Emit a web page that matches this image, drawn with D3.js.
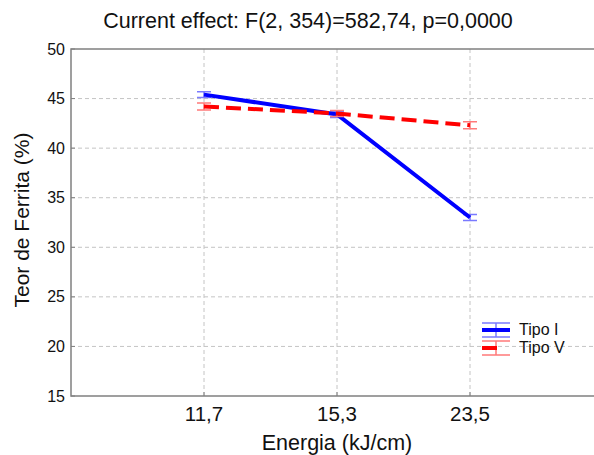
<!DOCTYPE html>
<html>
<head>
<meta charset="utf-8">
<script src="https://cdn.jsdelivr.net/npm/d3@7"></script>
<style>
  body { margin: 0; background: #fff; }
  svg { font-family: "Liberation Sans", Arial, sans-serif; }
</style>
</head>
<body>
<svg id="grafico" width="594" height="455"></svg>
<script>
const categorias = ["11,7", "15,3", "23,5"];
const tipoI = [45.4, 43.4, 33.0];
const erroTipoI = [0.3, 0.3, 0.3];
const tipoV = [44.2, 43.5, 42.3];
const erroTipoV = [0.35, 0.3, 0.35];
const ticksY = [15, 20, 25, 30, 35, 40, 45, 50];
const series = [
    {nome: "Tipo I", valores: tipoI, erros: erroTipoI, cor: "#0000ff", claro: "#7a7aff", traco: null},
    {nome: "Tipo V", valores: tipoV, erros: erroTipoV, cor: "#ff0000", claro: "#ff7a7a", traco: "15,7"}
];

const svg = d3.select("#grafico");
const esq = 71, dir = 603, topo = 49, base = 396;

// categories sit at 1..3 of a 0..4 domain, right edge goes past the window
const x = d3.scaleLinear().domain([0, 4]).range([esq, dir]);
const y = d3.scaleLinear().domain([15, 50]).range([base, topo]);

// grid
svg.selectAll(".gradeY")
    .data(ticksY.filter(d => d > 15 && d < 50))
    .enter().append("line")
    .attr("x1", esq).attr("x2", dir)
    .attr("y1", d => y(d)).attr("y2", d => y(d))
    .style("stroke", "#c4c4c4").style("stroke-dasharray", "4,3").style("stroke-width", 1);

svg.selectAll(".gradeX")
    .data(categorias)
    .enter().append("line")
    .attr("x1", (d, i) => x(i + 1)).attr("x2", (d, i) => x(i + 1))
    .attr("y1", topo).attr("y2", base)
    .style("stroke", "#c4c4c4").style("stroke-dasharray", "4,3").style("stroke-width", 1);

// axes frame
svg.append("path")
    .attr("d", `M${dir},${topo}H${esq}V${base}H${dir}`)
    .style("fill", "none").style("stroke", "#808080").style("stroke-width", 1.5);

// y ticks
svg.selectAll(".tickY")
    .data(ticksY)
    .enter().append("line")
    .attr("x1", esq).attr("x2", esq + 4)
    .attr("y1", d => y(d)).attr("y2", d => y(d))
    .style("stroke", "#808080");

svg.selectAll(".rotuloY")
    .data(ticksY)
    .enter().append("text")
    .text(d => d)
    .attr("x", esq - 6)
    .attr("y", d => y(d))
    .attr("dy", ".35em")
    .attr("text-anchor", "end")
    .style("font-size", "16px").style("fill", "#111");

// x ticks
svg.selectAll(".tickX")
    .data(categorias)
    .enter().append("line")
    .attr("x1", (d, i) => x(i + 1)).attr("x2", (d, i) => x(i + 1))
    .attr("y1", base).attr("y2", base - 4)
    .style("stroke", "#808080");

svg.selectAll(".rotuloX")
    .data(categorias)
    .enter().append("text")
    .text(d => d)
    .attr("x", (d, i) => x(i + 1))
    .attr("y", 421)
    .attr("text-anchor", "middle")
    .style("font-size", "20.5px").style("fill", "#111");

// titles
svg.append("text")
    .text("Current effect: F(2, 354)=582,74, p=0,0000")
    .attr("x", 308).attr("y", 28)
    .attr("text-anchor", "middle")
    .style("font-size", "21.5px").style("fill", "#111");

svg.append("text")
    .text("Energia (kJ/cm)")
    .attr("x", 337).attr("y", 450)
    .attr("text-anchor", "middle")
    .style("font-size", "21.5px").style("fill", "#111");

svg.append("text")
    .text("Teor de Ferrita (%)")
    .attr("transform", "translate(29,220) rotate(-90)")
    .attr("text-anchor", "middle")
    .style("font-size", "21px").style("fill", "#111");

// series
const linha = d3.line().x((d, i) => x(i + 1)).y(d => y(d));

series.forEach(s => {
    const g = svg.append("g");
    s.valores.forEach((v, i) => {
        const cx = x(i + 1), y1 = y(v + s.erros[i]), y2 = y(v - s.erros[i]);
        g.append("path")
            .attr("d", `M${cx - 7},${y1}H${cx + 7}M${cx},${y1}V${y2}M${cx - 7},${y2}H${cx + 7}`)
            .style("fill", "none").style("stroke", s.claro).style("stroke-width", 1.5);
    });
    g.append("path")
        .attr("d", linha(s.valores))
        .style("fill", "none").style("stroke", s.cor).style("stroke-width", 4)
        .style("stroke-dasharray", s.traco);
});

// legend
series.forEach((s, i) => {
    const ly = 330 + i * 18;
    const g = svg.append("g");
    g.append("path")
        .attr("d", `M482,${ly - 7}H510M496,${ly - 7}V${ly + 7}M482,${ly + 7}H510`)
        .style("fill", "none").style("stroke", s.claro).style("stroke-width", 1.5);
    g.append("line")
        .attr("x1", 482).attr("x2", s.traco ? 497 : 510)
        .attr("y1", ly).attr("y2", ly)
        .style("stroke", s.cor).style("stroke-width", 4);
    g.append("text")
        .text(s.nome)
        .attr("x", 519).attr("y", ly - 1)
        .attr("dy", ".35em")
        .style("font-size", "16px").style("fill", "#111");
});
</script>
</body>
</html>
